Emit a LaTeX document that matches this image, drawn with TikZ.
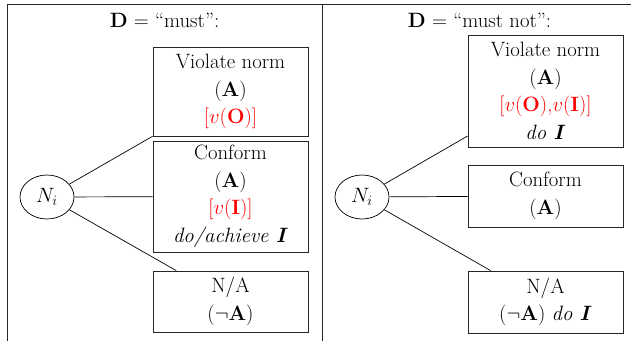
\documentclass[tikz,border=0pt]{standalone}
\usepackage{fontspec}
\usepackage{xcolor}
\usetikzlibrary{shapes.geometric}
\begin{document}
\begin{tikzpicture}[x=1pt,y=-1pt,
  every node/.style={font=\fontsize{20.74}{27.5}\selectfont},
  outcome/.style={draw=black!85, line width=0.8pt, minimum width=155pt,
    align=center, inner sep=0pt},
  state/.style={draw=black, line width=0.7pt, ellipse, minimum width=54pt,
    minimum height=44pt, inner sep=0pt},
  rule/.style={draw=black!85, line width=0.9pt},
  edge/.style={draw=black, line width=0.7pt}]
\useasboundingbox (0,0) rectangle (631,341);

% table frame
\draw[rule] (7,4.5) -- (631,4.5);
\draw[rule] (7,4.5) -- (7,341);
\draw[rule] (322,4.5) -- (322,341);

% column headings
\node (hl) at (164.5,20) {\textbf{D} = ``must'':};
\node (hr) at (479.5,20) {\textbf{D} = ``must not'':};

% left column: D = must
\node[state] (nl) at (47,197) {$N_i$};
\node[outcome, minimum height=89pt] (l1) at (230.5,91.5)
  {Violate norm\\(\textbf{A})\\\textcolor{red}{[$v$(\textbf{O})]}};
\node[outcome, minimum height=111pt] (l2) at (230.5,196.5)
  {Conform\\(\textbf{A})\\\textcolor{red}{[$v$(\textbf{I})]}\\\textit{do/achieve \textbf{I}}};
\node[outcome, minimum height=61pt] (l3) at (230.5,301.5)
  {N/A\\($\neg$\textbf{A})};
\draw[edge] (nl) -- (l1);
\draw[edge] (nl) -- (l2);
\draw[edge] (nl) -- (l3);

% right column: D = must not
\node[state] (nr) at (362,197) {$N_i$};
\node[outcome, minimum height=112pt] (r1) at (545.5,91)
  {Violate norm\\(\textbf{A})\\\textcolor{red}{[$v$(\textbf{O}),$v$(\textbf{I})]}\\\textit{do \textbf{I}}};
\node[outcome, minimum height=62pt] (r2) at (545.5,196)
  {Conform\\(\textbf{A})};
\node[outcome, minimum height=62pt] (r3) at (545.5,302)
  {N/A\\($\neg$\textbf{A}) \textit{do \textbf{I}}};
\draw[edge] (nr) -- (r1);
\draw[edge] (nr) -- (r2);
\draw[edge] (nr) -- (r3);
\end{tikzpicture}
\end{document}
